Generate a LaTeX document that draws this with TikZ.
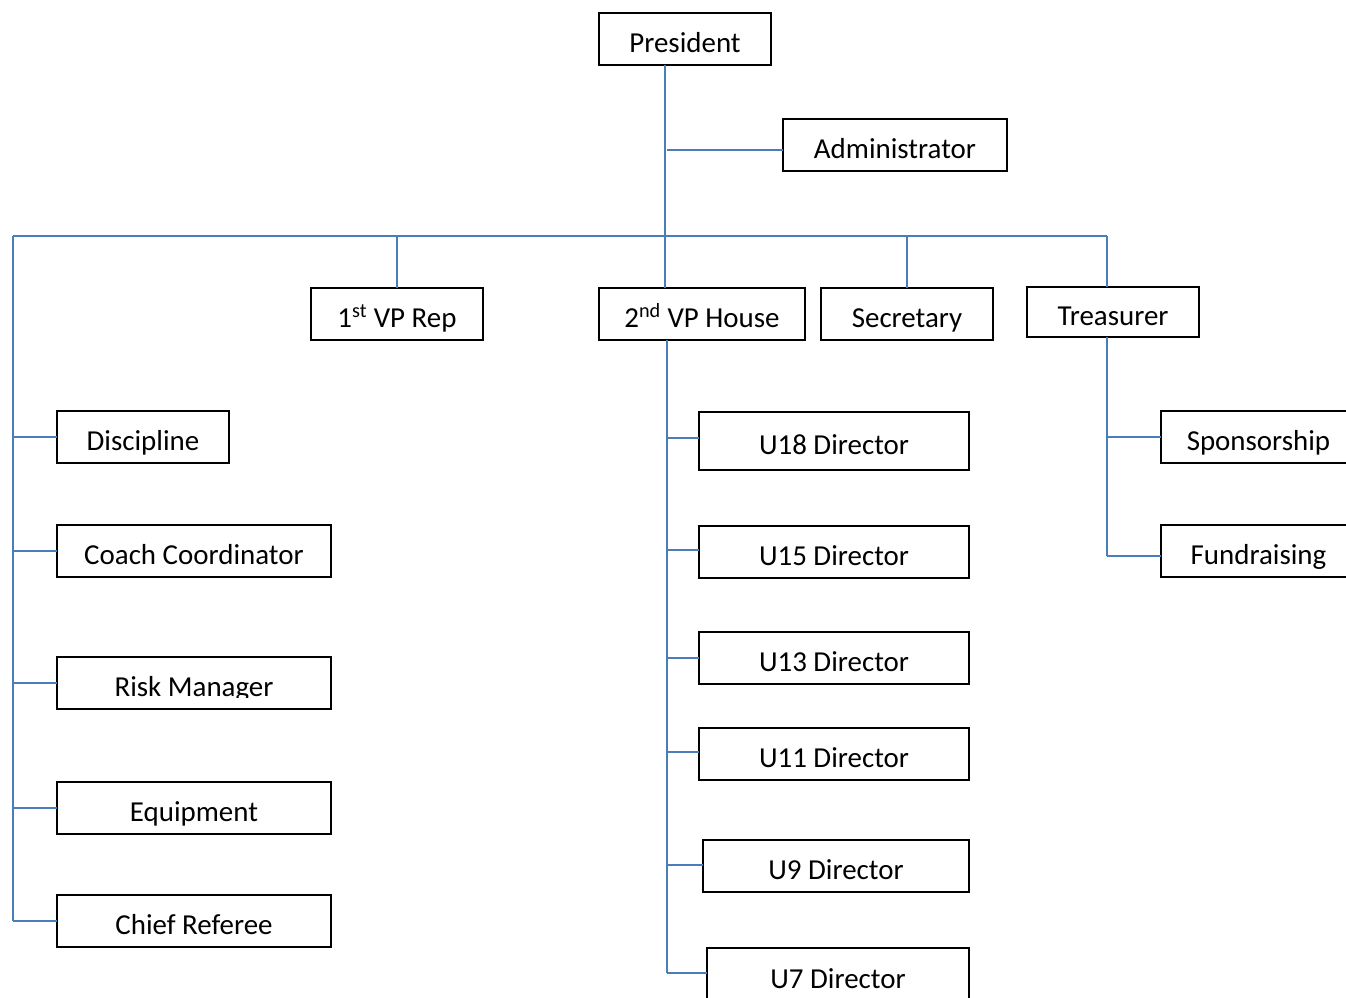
\documentclass[tikz,border=0pt]{standalone}
\usepackage{fontspec}
\setmainfont{Carlito}
\definecolor{linkblue}{HTML}{4A7EBB}
\tikzset{
  box/.style={draw=black, line width=1.5pt, inner sep=0pt, outer sep=0pt,
    font=\fontsize{21.7}{26}\selectfont, text height=20pt, text depth=0pt, align=center},
  lbl/.style={inner sep=0pt, font=\fontsize{21.7}{26}\selectfont, text height=20pt, text depth=0pt},
  conn/.style={draw=linkblue, line width=1.5pt}
}
\newcommand\ob[6]{%
  \pgfmathsetmacro\obcx{(#2+#4)/2}\pgfmathsetmacro\obcy{(#3+#5)/2}%
  \pgfmathsetmacro\obw{(#4-#2)*0.75}\pgfmathsetmacro\obh{(#5-#3)*0.75}%
  \node[box, minimum width=\obw pt, minimum height=\obh pt] (#1) at (\obcx,\obcy) {#6};}
\begin{document}
\begin{tikzpicture}[x=0.75pt, y=-0.75pt]
\useasboundingbox (0,0) rectangle (1346,997);
\clip (0,0) rectangle (1346,997);
% column coordinates
\coordinate (cx) at (665,0);
\coordinate (lx) at (13,0);
\coordinate (mx) at (667,0);
\coordinate (tx) at (1107,0);
\coordinate (bus) at (0,236);
% boxes
\ob{pres}{599}{13}{771}{65}{President}
\ob{admin}{783}{119}{1007}{171}{Administrator}
\ob{vp1}{311}{288}{483}{340}{1\textsuperscript{st} VP Rep}
\ob{vp2}{599}{288}{805}{340}{2\textsuperscript{nd} VP House}
\ob{sec}{821}{288}{993}{340}{Secretary}
\ob{treas}{1027}{287}{1199}{337}{Treasurer}
\ob{disc}{57}{411}{229}{463}{Discipline}
\ob{coach}{57}{525}{331}{577}{Coach Coordinator}
\ob{risk}{57}{657}{331}{709}{}
\ob{equip}{57}{782}{331}{834}{Equipment}
\ob{chief}{57}{895}{331}{947}{Chief Referee}
\ob{u18}{699}{412}{969}{470}{U18 Director}
\ob{u15}{699}{526}{969}{578}{U15 Director}
\ob{u13}{699}{632}{969}{684}{U13 Director}
\ob{u11}{699}{728}{969}{780}{U11 Director}
\ob{u9}{703}{840}{969}{892}{U9 Director}
\ob{u7}{707}{948}{969}{1002}{U7 Director}
\ob{spons}{1161}{411}{1356}{463}{Sponsorship}
\ob{fund}{1161}{525}{1356}{577}{Fundraising}
\begin{scope}
  \clip (59,659) rectangle (329,697);
  \node[lbl] (risklbl) at (risk.center) {Risk Manager};
\end{scope}
% connectors
\draw[conn] (pres.south -| cx) -- (vp2.north -| cx);
\draw[conn] (mx |- 0,150) -- (admin.west |- 0,150);
\draw[conn] (lx |- bus) -- (tx |- bus);
\draw[conn] (vp1.north |- bus) -- (vp1.north);
\draw[conn] (sec.north |- bus) -- (sec.north);
\draw[conn] (tx |- bus) -- (treas.north -| tx);
% left branch
\draw[conn] (lx |- bus) -- (lx |- chief.west);
\draw[conn] (lx |- disc.west) -- (disc.west);
\draw[conn] (lx |- coach.west) -- (coach.west);
\draw[conn] (lx |- risk.west) -- (risk.west);
\draw[conn] (lx |- equip.west) -- (equip.west);
\draw[conn] (lx |- chief.west) -- (chief.west);
% middle branch
\draw[conn] (vp2.south -| mx) -- (mx |- 0,973);
\draw[conn] (mx |- 0,438) -- (u18.west |- 0,438);
\draw[conn] (mx |- 0,550) -- (u15.west |- 0,550);
\draw[conn] (mx |- u13.west) -- (u13.west);
\draw[conn] (mx |- 0,752) -- (u11.west |- 0,752);
\draw[conn] (mx |- 0,865) -- (u9.west |- 0,865);
\draw[conn] (mx |- 0,973) -- (u7.west |- 0,973);
% treasurer branch
\draw[conn] (treas.south -| tx) -- (tx |- 0,556);
\draw[conn] (tx |- spons.west) -- (spons.west);
\draw[conn] (tx |- 0,556) -- (fund.west |- 0,556);
\end{tikzpicture}
\end{document}
